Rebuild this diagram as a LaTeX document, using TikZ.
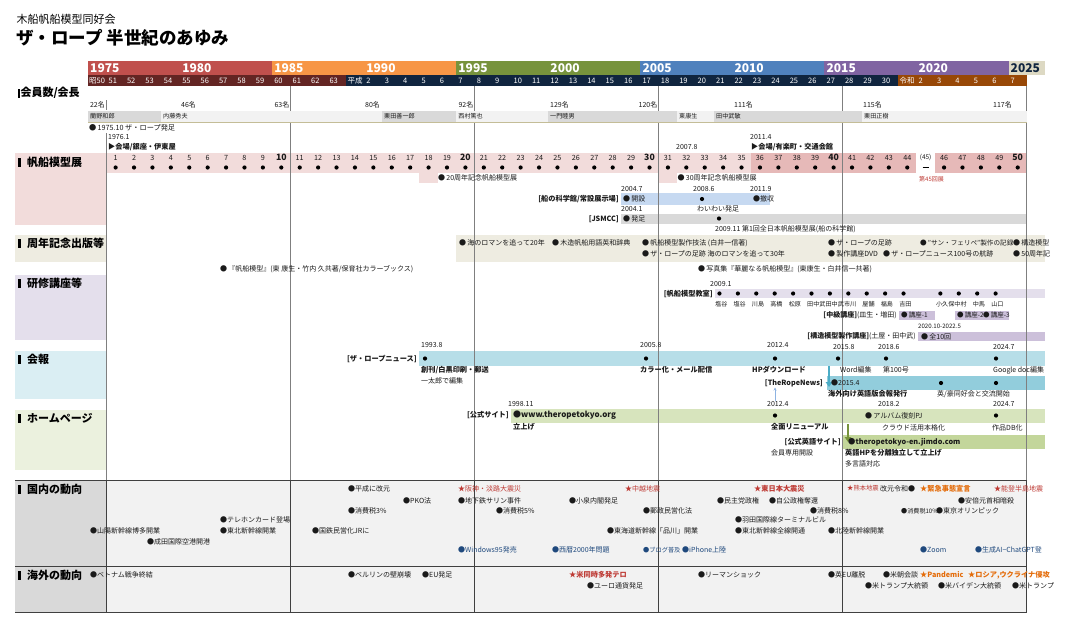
\documentclass[tikz,border=0pt]{standalone}
\usepackage{fontspec}
\setmainfont{Noto Sans CJK JP}[AutoFakeSlant=0.2]
\usetikzlibrary{arrows.meta}
\newcommand\fsz[1]{\fontsize{#1}{#1}\selectfont}
\definecolor{yrA}{HTML}{C0504D}
\definecolor{yrB}{HTML}{F79646}
\definecolor{yrC}{HTML}{77933C}
\definecolor{yrD}{HTML}{4F81BD}
\definecolor{yrE}{HTML}{8064A2}
\definecolor{yrF}{HTML}{DDD9C3}
\definecolor{erA}{HTML}{632523}
\definecolor{erB}{HTML}{10253F}
\definecolor{erC}{HTML}{984807}
\definecolor{pk}{HTML}{F2DCDB}
\definecolor{pkd}{HTML}{E6B9B8}
\definecolor{presA}{HTML}{D9D9D9}
\definecolor{presB}{HTML}{F2F2F2}
\definecolor{presL}{HTML}{C4BD97}
\definecolor{blu}{HTML}{C6D9F1}
\definecolor{gry}{HTML}{D9D9D9}
\definecolor{bei}{HTML}{EEECE1}
\definecolor{lav}{HTML}{E4DFEC}
\definecolor{lavd}{HTML}{CCC0DA}
\definecolor{kbA}{HTML}{DAEEF3}
\definecolor{kbB}{HTML}{B7DEE8}
\definecolor{kbC}{HTML}{92CDDC}
\definecolor{kbArr}{HTML}{4BACC6}
\definecolor{hpA}{HTML}{EBF1DE}
\definecolor{hpB}{HTML}{D7E4BD}
\definecolor{hpC}{HTML}{C3D69B}
\definecolor{hpArr}{HTML}{77933C}
\definecolor{lowbg}{HTML}{F2F2F2}
\definecolor{lowlab}{HTML}{D9D9D9}
\definecolor{redc}{HTML}{BE3A34}
\definecolor{ornc}{HTML}{E46C0A}
\definecolor{bluec}{HTML}{1F497D}
\definecolor{lineg}{HTML}{7F7F7F}
\definecolor{lined}{HTML}{404040}
\definecolor{txtc}{HTML}{1A1A1A}
\definecolor{thinarr}{HTML}{8DB3E2}
\begin{document}
\begin{tikzpicture}[x=1pt,y=-1pt,
  sm/.style={anchor=west,inner sep=0pt,font=\fsz{7},text=txtc},
  smb/.style={anchor=west,inner sep=0pt,font=\fsz{7.2}\bfseries,text=txtc},
  rb/.style={anchor=east,inner sep=0pt,font=\fsz{7.2}\bfseries,text=txtc},
  tn/.style={anchor=west,inner sep=0pt,font=\fsz{6.1},text=txtc},
  hd/.style={anchor=west,inner sep=0pt,font=\fsz{11}\bfseries,text=black},
  yl/.style={anchor=west,inner sep=0pt,font=\fsz{12}\bfseries,text=white},
  el/.style={anchor=west,inner sep=0pt,font=\fsz{7.5},text=white},
  num/.style={anchor=center,inner sep=0pt,font=\fsz{7.2},text=txtc},
  numb/.style={anchor=center,inner sep=0pt,font=\fsz{8.7}\bfseries,text=txtc},
  vl/.style={draw=lineg,line width=0.9pt},
  vld/.style={draw=lined,line width=1pt},
  rd/.style={text=redc},
  orn/.style={text=ornc},
  bl/.style={text=bluec},
  lowfill/.style={fill=lowbg}
]
\useasboundingbox (0,0) rectangle (1070,632);
\fill[white] (0,0) rectangle (1070,632);

% ---------- title
\node[anchor=west,inner sep=0pt,font=\fsz{11}] (t1) at (16.5,19) {木船帆船模型同好会};
\node[anchor=west,inner sep=0pt,font=\fsz{17.5}\bfseries] (t2) at (16,37.5) {ザ・ロープ 半世紀のあゆみ};

% ---------- year band
\fill[yrA] (88,61) rectangle (272.1,75);
\fill[yrB] (272.1,61) rectangle (456.2,75);
\fill[yrC] (456.2,61) rectangle (640.3,75);
\fill[yrD] (640.3,61) rectangle (824.4,75);
\fill[yrE] (824.4,61) rectangle (1008.5,75);
\fill[yrF] (1008.5,61) rectangle (1045,75);
\foreach \i/\y in {0/1975,5/1980,10/1985,15/1990,20/1995,25/2000,30/2005,35/2010,40/2015,45/2020}
  \node[yl] at ({88+18.41*\i+2},68.5) {\y};
\node[yl,text=erB] at (1010.5,68.5) {2025};
% era row
\fill[erA] (88,75) rectangle (345.74,86);
\fill[erB] (345.74,75) rectangle (898.04,86);
\fill[erC] (898.04,75) rectangle (1026.91,86);
\node[el] at (89,80.5) {昭50};
\foreach \i in {1,...,13}{\pgfmathtruncatemacro\l{\i+50}\node[el] at ({88+18.41*\i+2},80.5) {\l};}
\node[el] at (347.5,80.5) {平成};
\foreach \i in {15,...,43}{\pgfmathtruncatemacro\l{\i-13}\node[el] at ({88+18.41*\i+2},80.5) {\l};}
\node[el] at (899.5,80.5) {令和};
\foreach \i in {45,...,50}{\pgfmathtruncatemacro\l{\i-43}\node[el] at ({88+18.41*\i+2},80.5) {\l};}

% ---------- section backgrounds
\fill[pk] (15,153) rectangle (106.41,225);
\fill[pk] (106.41,153) rectangle (1026.91,173);
\fill[pkd] (750.76,153) rectangle (916.45,173);
\fill[pkd] (934.86,153) rectangle (1026.91,173);
\fill[white] (916.45,153) rectangle (934.86,173);
\fill[pk] (419.38,173) rectangle (437.79,183);
\fill[pk] (658.71,173) rectangle (677.12,183);
\fill[blu] (621,193) rectangle (770,205);
\fill[gry] (621,214) rectangle (1026.91,224);
\fill[bei] (15,235) rectangle (106.41,262);
\fill[bei] (456.2,235) rectangle (1045,262);
\fill[lav] (15,275) rectangle (106.41,340);
\fill[lav] (715,289) rectangle (1045,298);
\fill[lavd] (899,311) rectangle (935,320);
\fill[lavd] (955,311) rectangle (1008.5,320);
\fill[lavd] (918,332) rectangle (1045,341);
\fill[kbA] (15,351) rectangle (106.41,399);
\fill[kbB] (419.38,351) rectangle (1045,366);
\fill[kbC] (827,376) rectangle (1045,390);
\fill[hpA] (15,410) rectangle (106.41,470);
\fill[hpB] (511,409) rectangle (1045,423);
\fill[hpC] (843,435) rectangle (1045,449);
\fill[lowbg] (106.41,480) rectangle (1026.91,612);
\fill[lowlab] (15,480) rectangle (106.41,566);
\fill[lowlab] (15,566) rectangle (106.41,612);

% ---------- vertical lines
\foreach \x in {290.51,474.61,658.71,842.81,1026.91} \draw[vl] (\x,86) -- (\x,480);
\draw[vl] (106.41,100) -- (106.41,110);
\draw[vl] (106.41,133) -- (106.41,480);
\foreach \x in {106.41,290.51,474.61,658.71,842.81,1026.91} \draw[vld] (\x,480) -- (\x,612);
\foreach \y in {480,566,612} \draw[draw=lined,line width=0.9pt] (15,\y) -- (1026.91,\y);

% ---------- section headers
\fill[black] (17.5,88.5) rectangle (19.8,97.5);
\node[hd] at (20.3,93) {会員数/会長};
\foreach \y/\h in {162/帆船模型展,243/周年記念出版等,283/研修講座等,359/会報,418/ホームページ,489/国内の動向,575/海外の動向}{
  \fill[black] (18,\y-4.5) rectangle (20.8,\y+4.5);
  \node[hd] at (27,\y) {\h};
}

% ---------- members / presidents
\node[sm,anchor=east] at (105,104.5) {22名};
\node[sm] at (181,104.5) {46名};
\node[sm,anchor=east] at (289.5,104.5) {63名};
\node[sm] at (365,104.5) {80名};
\node[sm,anchor=east] at (473.5,104.5) {92名};
\node[sm] at (550,104.5) {129名};
\node[sm,anchor=east] at (657.5,104.5) {120名};
\node[sm] at (734,104.5) {111名};
\node[sm] at (863,104.5) {115名};
\node[sm] at (993,104.5) {117名};
\foreach \a/\b/\c/\n in {88/161/presA/蘭野和郎,161/382/presB/内藤秀夫,382/456.2/presA/栗田善一郎,456.2/548/presB/西村篤也,548/677/presA/一門睦男,677/714/presB/東康生,714/862/presA/田中武敏,862/1026.91/presB/栗田正樹}{
  \fill[\c] (\a,111) rectangle (\b,121.5);
  \node[tn] at (\a+2,116.3) {\n};
}
\draw[presL,line width=0.8pt] (88,122) -- (1026.91,122);

\node[sm,font=\fsz{7.2}] at (89,127.5) {●\,1975.10\ ザ・ロープ発足};
\node[sm] at (108,137) {1976.1};
\node[smb] at (108,147) {▶会場/銀座・伊東屋};
\node[sm] at (676,147) {2007.8};
\node[sm] at (750,137) {2011.4};
\node[smb] at (751,147) {▶会場/有楽町・交通会館};

% ---------- exhibitions
\foreach \n in {1,...,50}{
  \ifnum\n=45\relax\else
    \pgfmathtruncatemacro\m{mod(\n,10)}
    \ifnum\m=0\relax
      \node[numb] at ({88+18.41*\n+9.2},157.5) {\n};
    \else
      \node[num] at ({88+18.41*\n+9.2},157.5) {\n};
    \fi
    \fill[black] ({88+18.41*\n+9.2},167.5) circle (2.1);
  \fi
}
\node[num,font=\fsz{6.5}] at (925.6,157.5) {(45)};
\draw[black,line width=0.8pt] (922.6,167.5) -- (928.6,167.5);
\node[sm,rd,font=\fsz{6}] at (919,179) {第45回展};
\node[sm] at (438,178) {●\,20周年記念帆船模型展};
\node[sm] at (677.5,178) {●\,30周年記念帆船模型展};

\node[sm] at (621,189) {2004.7};
\node[rb] at (619,199) {[船の科学館/常設展示場]};
\node[sm] at (623,199) {●\,開設};
\node[sm] at (693,189) {2008.6};
\fill[black] (702,199) circle (2.1);
\node[sm] at (750,189) {2011.9};
\node[sm] at (753,199) {●撤収};
\node[sm] at (621,209) {2004.1};
\node[sm] at (697,209) {わいわい発足};
\node[rb] at (619,219) {[JSMCC]};
\node[sm] at (623,219) {●\,発足};
\fill[black] (719,218.5) circle (2.1);
\node[sm] at (715,229) {2009.11 第1回全日本帆船模型展(船の科学館)};

% ---------- publications
\node[sm] at (459,243) {●\,海のロマンを追って20年};
\node[sm] at (552,243) {●\,木造帆船用語英和辞典};
\node[sm] at (642,243) {●\,帆船模型製作技法 (白井一信著)};
\node[sm] at (642,254) {●\,ザ・ロープの足跡\ 海のロマンを追って30年};
\node[sm] at (828,243) {●\,ザ・ロープの足跡};
\node[sm,font=\fsz{6.6}] at (920,243) {●\,"サン・フェリペ"製作の記録};
\node[sm] at (1013,243) {●\,構造模型};
\node[sm] at (828,254) {●\,製作講座DVD};
\node[sm] at (883,254) {●\,ザ・ロープニュース100号の航跡};
\node[sm] at (1013,254) {●\,50周年記};
\node[sm] at (698,269) {●\,写真集『華麗なる帆船模型』(東康生・白井信一共著)};
\node[sm] at (220,269) {●\,『帆船模型』(東 康生・竹内 久共著/保育社カラーブックス)};

% ---------- courses
\node[sm] at (710,284) {2009.1};
\node[rb] at (713,294) {[帆船模型教室]};
\foreach \c/\nm in {34/塩谷,35/塩谷,36/川島,37/高橋,38/松原,39/田中武,40/田中武,41/市川,42/屋舗,43/福島,44/吉田,46/小久保,47/中村,48/中馬,49/山口}{
  \fill[black] ({88+18.41*\c+5.5},293.5) circle (2.1);
  \node[tn] at ({88+18.41*\c+1},304) {\nm};
}
\node[sm,anchor=east] at (897,315.5) {\textbf{[中級講座]}(皿生・増田)};
\node[sm,font=\fsz{6.5}] at (901,315.5) {●\,講座-1};
\node[sm,font=\fsz{6.5}] at (957,315.5) {●\,講座-2};
\node[sm,font=\fsz{6.5}] at (983,315.5) {●\,講座-3};
\node[tn] at (918,326) {2020.10-2022.5};
\node[sm,anchor=east] at (916,336.5) {\textbf{[構造模型製作講座]}(土屋・田中武)};
\node[sm] at (921,336.5) {●\,全10回};

% ---------- newsletter
\node[sm] at (421,345) {1993.8};
\node[rb] at (417,359) {[ザ・ロープニュース]};
\fill[black] (425,358.5) circle (2.1);
\node[smb] at (421,370) {創刊/白黒印刷・郵送};
\node[sm] at (421,381) {一太郎で編集};
\node[sm] at (640,345) {2005.8};
\fill[black] (646,358.5) circle (2.1);
\node[smb] at (640,370) {カラー化・メール配信};
\node[sm] at (767,345) {2012.4};
\fill[black] (775,358.5) circle (2.1);
\node[smb] at (752,370) {HPダウンロード};
\node[sm] at (833,347) {2015.8};
\fill[black] (838,358.5) circle (2.1);
\node[sm] at (840,370) {Word編集};
\node[sm] at (878,347) {2018.6};
\fill[black] (886,358.5) circle (2.1);
\node[sm] at (883,370) {第100号};
\node[sm] at (993,347) {2024.7};
\fill[black] (996,358.5) circle (2.1);
\node[sm] at (993,370) {Google doc編集};

\node[rb,font=\fsz{7.2}\bfseries\itshape] at (823,383) {[TheRopeNews]};
\coordinate (kbs) at (829,366);
\coordinate (kbe) at (829,387);
\draw[kbArr,line width=2.2pt,-{Triangle[length=5pt,width=6.5pt]}] (kbs) -- (kbe);
\node[sm] at (831,383) {●2015.4};
\fill[black] (941,383) circle (2.1);
\fill[black] (996,383) circle (2.1);
\node[smb] at (828,394) {海外向け英語版会報発行};
\node[sm] at (937,394) {英/豪同好会と交流開始};
\coordinate (tas) at (775,401);
\coordinate (tae) at (775,387.5);
\draw[thinarr,line width=0.6pt,-{Stealth[length=3pt,width=3pt]}] (tas) -- (tae);

% ---------- homepage
\node[sm] at (508,404) {1998.11};
\node[rb] at (509,415.5) {[公式サイト]};
\node[smb,font=\fsz{8}\bfseries] at (513,415.5) {●www.theropetokyo.org};
\node[smb] at (513,426.5) {立上げ};
\node[sm] at (767,404) {2012.4};
\fill[black] (775,415.5) circle (2.1);
\node[smb] at (771,427) {全面リニューアル};
\node[sm] at (878,404) {2018.2};
\node[sm] at (865,415.5) {●\,アルバム復刻PJ};
\node[sm] at (882,428) {クラウド活用本格化};
\node[sm] at (993,404) {2024.7};
\fill[black] (996,415.5) circle (2.1);
\node[sm] at (992,428) {作品DB化};
\node[rb] at (841,442.5) {[公式英語サイト]};
\node[sm] at (771,453) {会員専用開設};
\coordinate (hps) at (848,424);
\coordinate (hpe) at (848,442);
\draw[hpArr,line width=2.2pt,-{Triangle[length=5pt,width=6.5pt]}] (hps) -- (hpe);
\node[smb,font=\fsz{7.3}\bfseries] at (848,442.5) {●theropetokyo-en.jimdo.com};
\node[smb] at (845,453) {英語HPを分離独立して立上げ};
\node[sm] at (845,463.5) {多言語対応};

% ---------- domestic
\node[sm] at (90,530.5) {●山陽新幹線博多開業};
\node[sm] at (147,541.5) {●成田国際空港開港};
\node[sm] at (220,520) {●テレホンカード登場};
\node[sm] at (220,530.5) {●東北新幹線開業};
\node[sm] at (312,530.5) {●国鉄民営化JRに};
\node[sm] at (348,488.5) {●平成に改元};
\node[sm] at (403,500.5) {●PKO法};
\node[sm] at (348,511) {●消費税3\%};
\node[sm,rd] at (458,488.5) {★阪神・淡路大震災};
\node[sm] at (458,500.5) {●地下鉄サリン事件};
\node[sm] at (496,511) {●消費税5\%};
\node[sm,bl] at (458,550) {●Windows95発売};
\node[sm,rd] at (625,488.5) {★中越地震};
\node[sm] at (569,500.5) {●小泉内閣発足};
\node[sm] at (643,511) {●郵政民営化法};
\node[sm] at (607,530.5) {●東海道新幹線「品川」開業};
\node[sm,bl] at (552,550) {●西暦2000年問題};
\node[sm,bl,font=\fsz{6.2}] at (643,550) {●ブログ普及};
\node[sm,bl] at (682,550) {●iPhone上陸};
\node[smb,rd] at (754,488.5) {★東日本大震災};
\node[sm] at (717,500.5) {●民主党政権};
\node[sm] at (769,500.5) {●自公政権奪還};
\node[sm] at (735,520) {●羽田国際線ターミナルビル};
\node[sm] at (735,530.5) {●東北新幹線全線開通};
\node[sm] at (810,511) {●消費税8\%};
\node[sm] at (828,530.5) {●北陸新幹線開業};
\node[sm,rd,font=\fsz{6.3}] at (847,488.5) {★熊本地震};
\node[sm] at (880,488.5) {改元令和●};
\node[smb,orn] at (920,488.5) {★緊急事態宣言};
\node[sm,rd] at (994,488.5) {★能登半島地震};
\node[sm] at (958,500.5) {●安倍元首相暗殺};
\node[sm,font=\fsz{6.1}] at (901,511) {●消費税10\%};
\node[sm] at (936,511) {●東京オリンピック};
\node[sm,bl] at (920,550) {●Zoom};
\node[sm,bl] at (975,550) {●生成AI−ChatGPT登};

% ---------- overseas
\node[sm] at (90,575) {●ベトナム戦争終結};
\node[sm] at (348,575) {●ベルリンの壁崩壊};
\node[sm] at (422,575) {●EU発足};
\node[smb,rd] at (569,575) {★米同時多発テロ};
\node[sm] at (587,586) {●ユーロ通貨発足};
\node[sm] at (698,575) {●リーマンショック};
\node[sm] at (828,575) {●英EU離脱};
\node[sm] at (883,575) {●米朝会談};
\node[smb,orn] at (920,575) {★Pandemic};
\node[smb,orn] at (968,575) {★ロシア,ウクライナ侵攻};
\node[sm] at (865,586) {●米トランプ大統領};
\node[sm] at (938,586) {●米バイデン大統領};
\node[sm] at (1012,586) {●米トランプ};
\end{tikzpicture}
\end{document}
